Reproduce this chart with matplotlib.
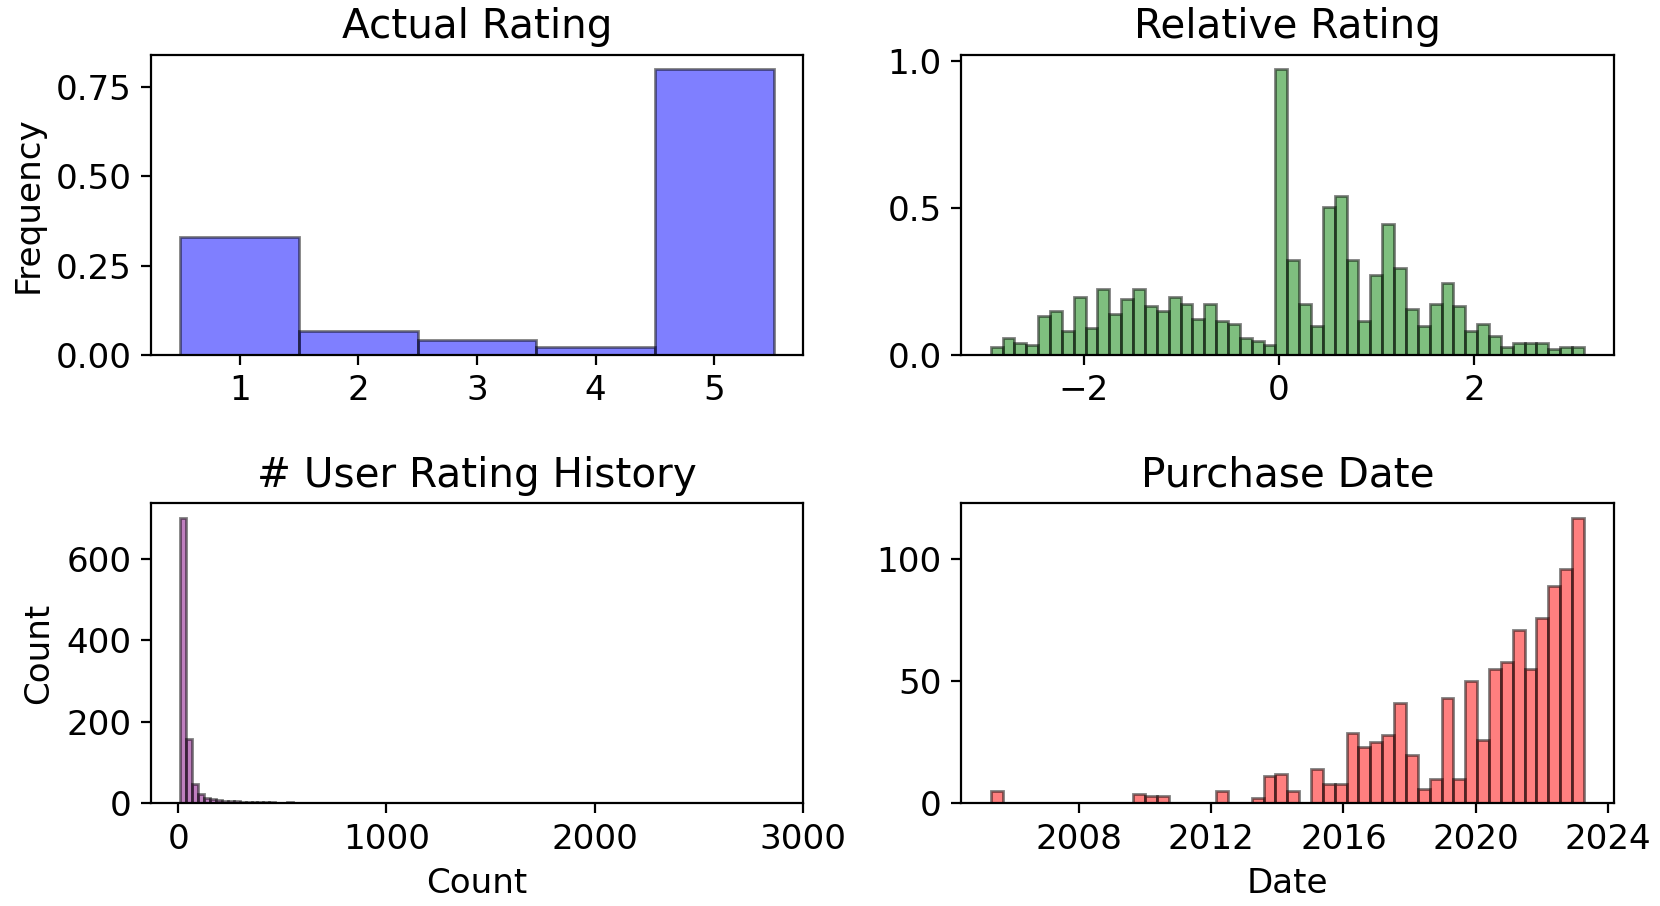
import numpy as np
import pandas as pd
import matplotlib
matplotlib.use("Agg")
import matplotlib.pyplot as plt
import matplotlib.dates as mdates

plt.rcParams["font.size"] = 12.3
plt.rcParams["axes.titlesize"] = 14.6
plt.rcParams["xtick.labelsize"] = 12.3
plt.rcParams["ytick.labelsize"] = 12.3

# actual rating (frequency per star)
rating_levels = [1, 2, 3, 4, 5]
rating_freq = [0.33, 0.068, 0.041, 0.021, 0.80]

# relative rating, 50 bins
rel_min, rel_max = -2.95, 3.12
rel_freq = [0.026, 0.057, 0.041, 0.034, 0.131, 0.148, 0.081, 0.197, 0.091, 0.223,
            0.140, 0.189, 0.223, 0.165, 0.148, 0.197, 0.172, 0.123, 0.172, 0.114,
            0.106, 0.057, 0.048, 0.034, 0.973, 0.322, 0.172, 0.099, 0.503, 0.543,
            0.322, 0.116, 0.273, 0.447, 0.297, 0.157, 0.099, 0.172, 0.245, 0.165,
            0.081, 0.106, 0.066, 0.026, 0.041, 0.041, 0.041, 0.020, 0.026, 0.026]

# number of ratings in user history, 100 bins
hist_min, hist_max = 10, 2860
hist_counts = [701, 157, 48, 24, 14, 10, 8, 6, 5, 5, 4, 4, 3, 3, 3, 3, 2, 2, 3, 2,
               2, 2, 2, 1, 2, 1, 2, 1, 1, 2, 1, 1, 1, 0, 1, 1, 0, 0, 0, 0,
               0, 0, 0, 0, 0, 0, 0, 0, 0, 0, 0, 0, 0, 0, 0, 0, 0, 0, 0, 0,
               0, 0, 0, 0, 0, 0, 0, 0, 0, 0, 0, 0, 0, 0, 0, 0, 0, 0, 0, 0,
               0, 0, 0, 0, 0, 0, 0, 0, 0, 0, 0, 0, 0, 0, 0, 0, 0, 0, 0, 1]

# purchase dates, 50 bins
date_first, date_last = "2005-05-05", "2023-04-08"
date_counts = [5, 0, 0, 0, 0, 0, 0, 0, 0, 0,
               0, 0, 4, 3, 3, 0, 0, 0, 0, 5,
               0, 0, 2, 11, 12, 5, 0, 14, 8, 8,
               29, 23, 25, 28, 41, 20, 6, 10, 43, 10,
               50, 26, 55, 58, 71, 55, 76, 89, 96, 117]

fig, axes = plt.subplots(2, 2, figsize=(8.3, 4.53), dpi=200)
plt.subplots_adjust(left=0.0908, right=0.972, top=0.9393, bottom=0.1133,
                    wspace=0.242, hspace=0.495)

ax = axes[0, 0]
edges = np.arange(0.5, 6.5, 1.0)
ax.hist(rating_levels, bins=edges, weights=rating_freq, color="blue",
        alpha=0.5, edgecolor="black")
ax.set_title("Actual Rating")
ax.set_ylabel("Frequency")
ax.set_xticks(rating_levels)
ax.set_yticks([0, 0.25, 0.5, 0.75])

ax = axes[0, 1]
edges = np.linspace(rel_min, rel_max, len(rel_freq) + 1)
ax.hist(edges[:-1], bins=edges, weights=rel_freq, color="green",
        alpha=0.5, edgecolor="black")
ax.set_title("Relative Rating")
ax.set_xticks([-2, 0, 2])
ax.set_yticks([0, 0.5, 1.0])

ax = axes[1, 0]
edges = np.linspace(hist_min, hist_max, len(hist_counts) + 1)
ax.hist(edges[:-1], bins=edges, weights=hist_counts, color="purple",
        alpha=0.5, edgecolor="black")
ax.set_title("# User Rating History")
ax.set_xlabel("Count")
ax.set_ylabel("Count")
ax.set_xticks([0, 1000, 2000, 3000])
ax.set_yticks([0, 200, 400, 600])

ax = axes[1, 1]
edges = mdates.date2num(pd.date_range(date_first, date_last, periods=len(date_counts) + 1))
ax.hist(edges[:-1], bins=edges, weights=date_counts, color="red",
        alpha=0.5, edgecolor="black")
ax.set_title("Purchase Date")
ax.set_xlabel("Date")
ax.xaxis.set_major_locator(mdates.YearLocator(4))
ax.xaxis.set_major_formatter(mdates.DateFormatter("%Y"))
ax.set_yticks([0, 50, 100])

fig.savefig("out.png", dpi=200)
